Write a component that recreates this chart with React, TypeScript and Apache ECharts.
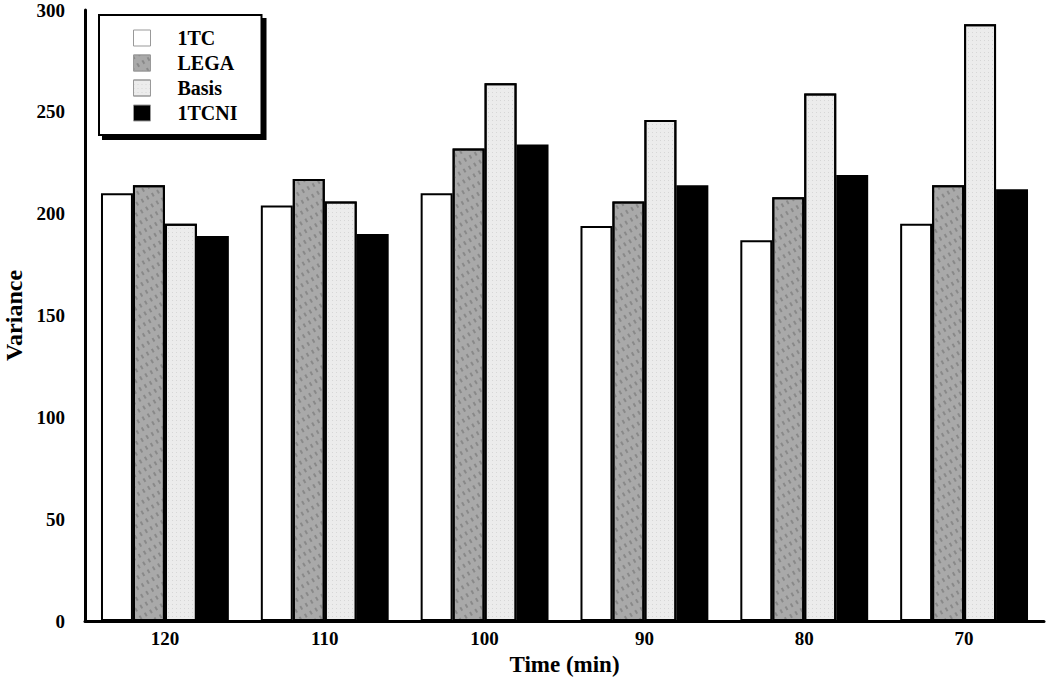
import React, { useEffect, useRef } from "react";
import * as echarts from "echarts";

const categories = ["120", "110", "100", "90", "80", "70"];
const seriesNames = ["1TC", "LEGA", "Basis", "1TCNI"];
const tc1 = [210, 204, 210, 194, 187, 195];
const lega = [214, 217, 232, 206, 208, 214];
const basis = [195, 206, 264, 246, 259, 293];
const tcni = [189, 190, 234, 214, 219, 212];
const yTicks = [0, 50, 100, 150, 200, 250, 300];

const FONT = "'Liberation Serif', 'DejaVu Serif', serif";

export default function App() {
  const ref = useRef<HTMLDivElement>(null);
  useEffect(() => {
    if (!ref.current) return;
    const chart = echarts.init(ref.current, undefined, { renderer: "svg" });
    const fills = ["#ffffff", "#a9a9a9", "#ececec", "#000000"];
    const data = [tc1, lega, basis, tcni];
    const decals: any[] = [
      undefined,
      {
        symbol: "rect",
        color: "rgba(110,110,110,0.55)",
        symbolSize: 1,
        dashArrayX: [[4, 5]],
        dashArrayY: [1.5, 4],
        rotation: Math.PI / 3,
      },
      {
        symbol: "rect",
        color: "rgba(200,200,200,0.6)",
        symbolSize: 1,
        dashArrayX: [[1, 3]],
        dashArrayY: [1, 3],
        rotation: 0,
      },
      undefined,
    ];
    chart.setOption({
      animation: false,
      backgroundColor: "#ffffff",
      textStyle: { fontFamily: FONT },
      grid: {
        left: 85,
        right: 6,
        top: 10,
        bottom: 64,
        containLabel: false,
        outerBoundsMode: "none",
      },
      legend: {
        orient: "vertical",
        left: 99,
        top: 15,
        data: seriesNames,
        icon: "rect",
        itemWidth: 17,
        itemHeight: 16,
        itemGap: 5,
        padding: [13, 24, 12, 34],
        backgroundColor: "#ffffff",
        borderColor: "#000000",
        borderWidth: 2,
        shadowColor: "#000000",
        shadowBlur: 0,
        shadowOffsetX: 4,
        shadowOffsetY: 4,
        textStyle: {
          fontFamily: FONT,
          fontWeight: "bold",
          fontSize: 20,
          color: "#000",
          padding: [0, 0, 0, 22],
        },
        itemStyle: { borderColor: "#999", borderWidth: 1 },
      },
      xAxis: {
        type: "category",
        data: categories,
        name: "Time (min)",
        nameLocation: "middle",
        nameGap: 30,
        nameTextStyle: { fontFamily: FONT, fontWeight: "bold", fontSize: 23, color: "#000" },
        axisLine: { show: true, lineStyle: { color: "#000", width: 3 } },
        axisTick: { show: false },
        axisLabel: { fontFamily: FONT, fontWeight: "bold", fontSize: 19, color: "#000", margin: 8 },
      },
      yAxis: {
        type: "value",
        min: yTicks[0],
        max: yTicks[yTicks.length - 1],
        interval: 50,
        name: "Variance",
        nameLocation: "middle",
        nameGap: 57,
        nameRotate: 90,
        nameTextStyle: { fontFamily: FONT, fontWeight: "bold", fontSize: 24, color: "#000" },
        axisLine: { show: true, lineStyle: { color: "#000", width: 3 } },
        axisTick: { show: false },
        splitLine: { show: false },
        axisLabel: { fontFamily: FONT, fontWeight: "bold", fontSize: 19, color: "#000", margin: 20 },
      },
      series: seriesNames.map((name, i) => ({
        name,
        type: "bar",
        data: data[i],
        barGap: "0%",
        barCategoryGap: "20%",
        itemStyle: {
          color: fills[i],
          borderColor: "#000",
          borderWidth: 2,
          decal: decals[i],
        },
      })),
    });
    return () => chart.dispose();
  }, []);
  return (
    <div
      ref={ref}
      style={{ position: "fixed", left: 0, top: 0, width: 1050, height: 685 }}
    />
  );
}
